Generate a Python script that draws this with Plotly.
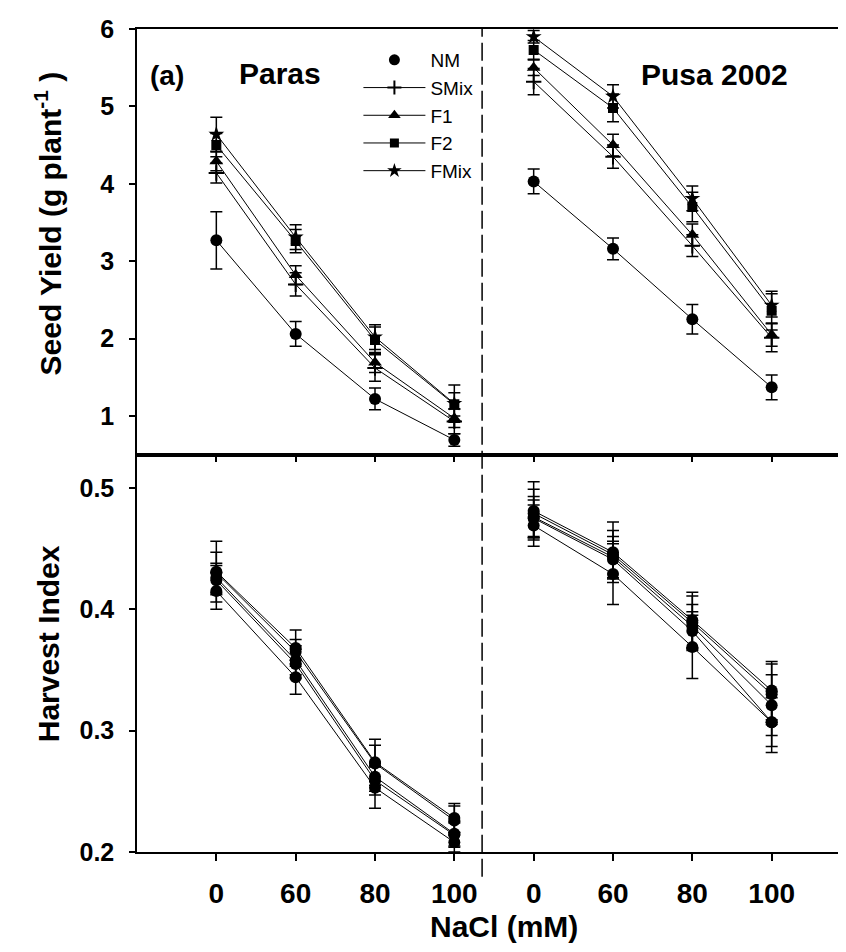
import plotly.graph_objects as go
from plotly.subplots import make_subplots

# ---------------- data ----------------
cultivars = ["Paras", "Pusa 2002"]
nacl_levels = ["0", "60", "80", "100"]
treatments = ["NM", "SMix", "F1", "F2", "FMix"]

# Seed yield (g plant-1), rows follow `treatments`
sy_paras = [
    [3.27, 2.06, 1.22, 0.69],
    [4.14, 2.70, 1.62, 0.93],
    [4.29, 2.82, 1.69, 0.97],
    [4.50, 3.26, 1.98, 1.15],
    [4.64, 3.31, 2.02, 1.16],
]
sy_paras_err = [
    [0.37, 0.16, 0.14, 0.08],
    [0.13, 0.15, 0.17, 0.16],
    [0.12, 0.12, 0.13, 0.12],
    [0.15, 0.15, 0.17, 0.15],
    [0.22, 0.16, 0.16, 0.24],
]
sy_pusa = [
    [4.03, 3.16, 2.25, 1.37],
    [5.32, 4.35, 3.20, 2.01],
    [5.50, 4.50, 3.34, 2.05],
    [5.73, 4.98, 3.70, 2.36],
    [5.90, 5.13, 3.81, 2.43],
]
sy_pusa_err = [
    [0.16, 0.14, 0.19, 0.16],
    [0.17, 0.15, 0.14, 0.18],
    [0.10, 0.14, 0.14, 0.15],
    [0.12, 0.18, 0.19, 0.25],
    [0.08, 0.15, 0.16, 0.15],
]

# Harvest index
hi_paras = [
    [0.415, 0.344, 0.253, 0.208],
    [0.424, 0.355, 0.259, 0.214],
    [0.426, 0.358, 0.262, 0.215],
    [0.430, 0.365, 0.273, 0.226],
    [0.431, 0.368, 0.274, 0.228],
]
hi_paras_err = [
    [0.015, 0.014, 0.017, 0.008],
    [0.012, 0.012, 0.012, 0.010],
    [0.012, 0.012, 0.012, 0.010],
    [0.017, 0.010, 0.015, 0.012],
    [0.025, 0.015, 0.019, 0.012],
]
hi_pusa = [
    [0.469, 0.429, 0.369, 0.307],
    [0.475, 0.441, 0.382, 0.307],
    [0.476, 0.443, 0.386, 0.321],
    [0.479, 0.445, 0.389, 0.330],
    [0.481, 0.447, 0.391, 0.333],
]
hi_pusa_err = [
    [0.017, 0.025, 0.026, 0.025],
    [0.015, 0.015, 0.016, 0.020],
    [0.017, 0.017, 0.018, 0.025],
    [0.020, 0.020, 0.022, 0.025],
    [0.024, 0.025, 0.023, 0.024],
]

sy_ticks = [1, 2, 3, 4, 5, 6]
hi_ticks = [0.2, 0.3, 0.4, 0.5]

# ---------------- styling ----------------
FONT = "Liberation Sans, Arial, Helvetica, sans-serif"
symbols = {"NM": "circle", "SMix": "cross-thin", "F1": "triangle-up",
           "F2": "square", "FMix": "star"}
sizes = {"NM": 12, "SMix": 11, "F1": 12, "F2": 10, "FMix": 12}

fig = make_subplots(rows=2, cols=1, shared_xaxes=True, vertical_spacing=0)

n_lv = len(nacl_levels)
panels = [
    (1, [sy_paras, sy_pusa], [sy_paras_err, sy_pusa_err], True),
    (2, [hi_paras, hi_pusa], [hi_paras_err, hi_pusa_err], False),
]

for row, vals, errs, use_sym in panels:
    for ti, t in enumerate(treatments):
        for ci, _c in enumerate(cultivars):
            xs = [ci * n_lv + li for li in range(n_lv)]
            sym = symbols[t] if use_sym else "circle"
            sz = sizes[t] if use_sym else 12
            fig.add_trace(go.Scatter(
                x=xs, y=vals[ci][ti], mode="lines+markers",
                showlegend=False,
                line=dict(color="black", width=1),
                marker=dict(symbol=sym, size=sz, color="black",
                            line=dict(color="black", width=2 if sym == "cross-thin" else 0)),
                error_y=dict(type="data", array=errs[ci][ti], visible=True,
                             color="black", thickness=1.5, width=6),
            ), row=row, col=1)

# legend entries
for t in treatments:
    fig.add_trace(go.Scatter(
        x=[None], y=[None], name=t,
        mode="markers" if t == "NM" else "lines+markers",
        line=dict(color="black", width=1),
        marker=dict(symbol=symbols[t], size=sizes[t] - 1, color="black",
                    line=dict(color="black", width=2 if symbols[t] == "cross-thin" else 0)),
    ), row=1, col=1)

# ---------------- axes ----------------
xticks = list(range(len(cultivars) * n_lv))
xtext = nacl_levels * len(cultivars)
split = 0.4828

axis_common = dict(showline=True, linecolor="black", linewidth=1.5, mirror=True,
                   showgrid=False, zeroline=False, ticks="outside",
                   tickcolor="black", tickwidth=1.5)

fig.update_xaxes(**axis_common, range=[-1, 8], tickvals=xticks, ticktext=xtext,
                 ticklen=7)
fig.update_xaxes(showticklabels=False, ticklen=6, row=1, col=1)
fig.update_xaxes(tickfont=dict(family=FONT, size=28, color="black", weight="bold"),
                 ticklabelstandoff=9, row=2, col=1)

fig.update_yaxes(**axis_common, ticklen=6,
                 tickfont=dict(family=FONT, size=25, color="black", weight="bold"),
                 ticklabelstandoff=10)
fig.update_yaxes(range=[0.5, 6], tickvals=sy_ticks, domain=[split, 1], row=1, col=1)
fig.update_yaxes(range=[0.2, 0.5274], tickvals=hi_ticks, tickformat=".1f",
                 domain=[0, split], row=2, col=1)

# divider between cultivars
fig.add_shape(type="line", xref="x2", yref="paper", x0=3.35, x1=3.35,
              y0=-0.03, y1=1, line=dict(color="black", width=1.5, dash="18px,6px"))

# ---------------- text ----------------
def ann(text, x, y, size, bold=True, angle=0):
    fig.add_annotation(text=text, xref="paper", yref="paper", x=x, y=y,
                       xanchor="center", yanchor="middle", showarrow=False,
                       textangle=angle,
                       font=dict(family=FONT, size=size, color="black",
                                 weight="bold" if bold else "normal"))

ann("(a)", 0.0419, 0.9429, 28)
ann(cultivars[0], 0.1997, 0.9465, 30)
ann(cultivars[1], 0.8087, 0.9453, 30)
ann("Seed Yield (g plant<sup>-1</sup> )", -0.1243, 0.7640, 30, angle=-90)
ann("Harvest Index", -0.1243, 0.2527, 30, angle=-90)
ann("NaCl (mM)", 0.5147, -0.0900, 30)

fig.update_layout(
    width=846, height=952,
    margin=dict(l=129, r=1, t=21, b=108),
    paper_bgcolor="white", plot_bgcolor="white",
    showlegend=True,
    legend=dict(x=0.3101, y=0.9854, xanchor="left", yanchor="top",
                bgcolor="rgba(0,0,0,0)", borderwidth=0,
                font=dict(family=FONT, size=19, color="black"),
                itemwidth=62, traceorder="normal"),
)

fig.write_html("out.html")
